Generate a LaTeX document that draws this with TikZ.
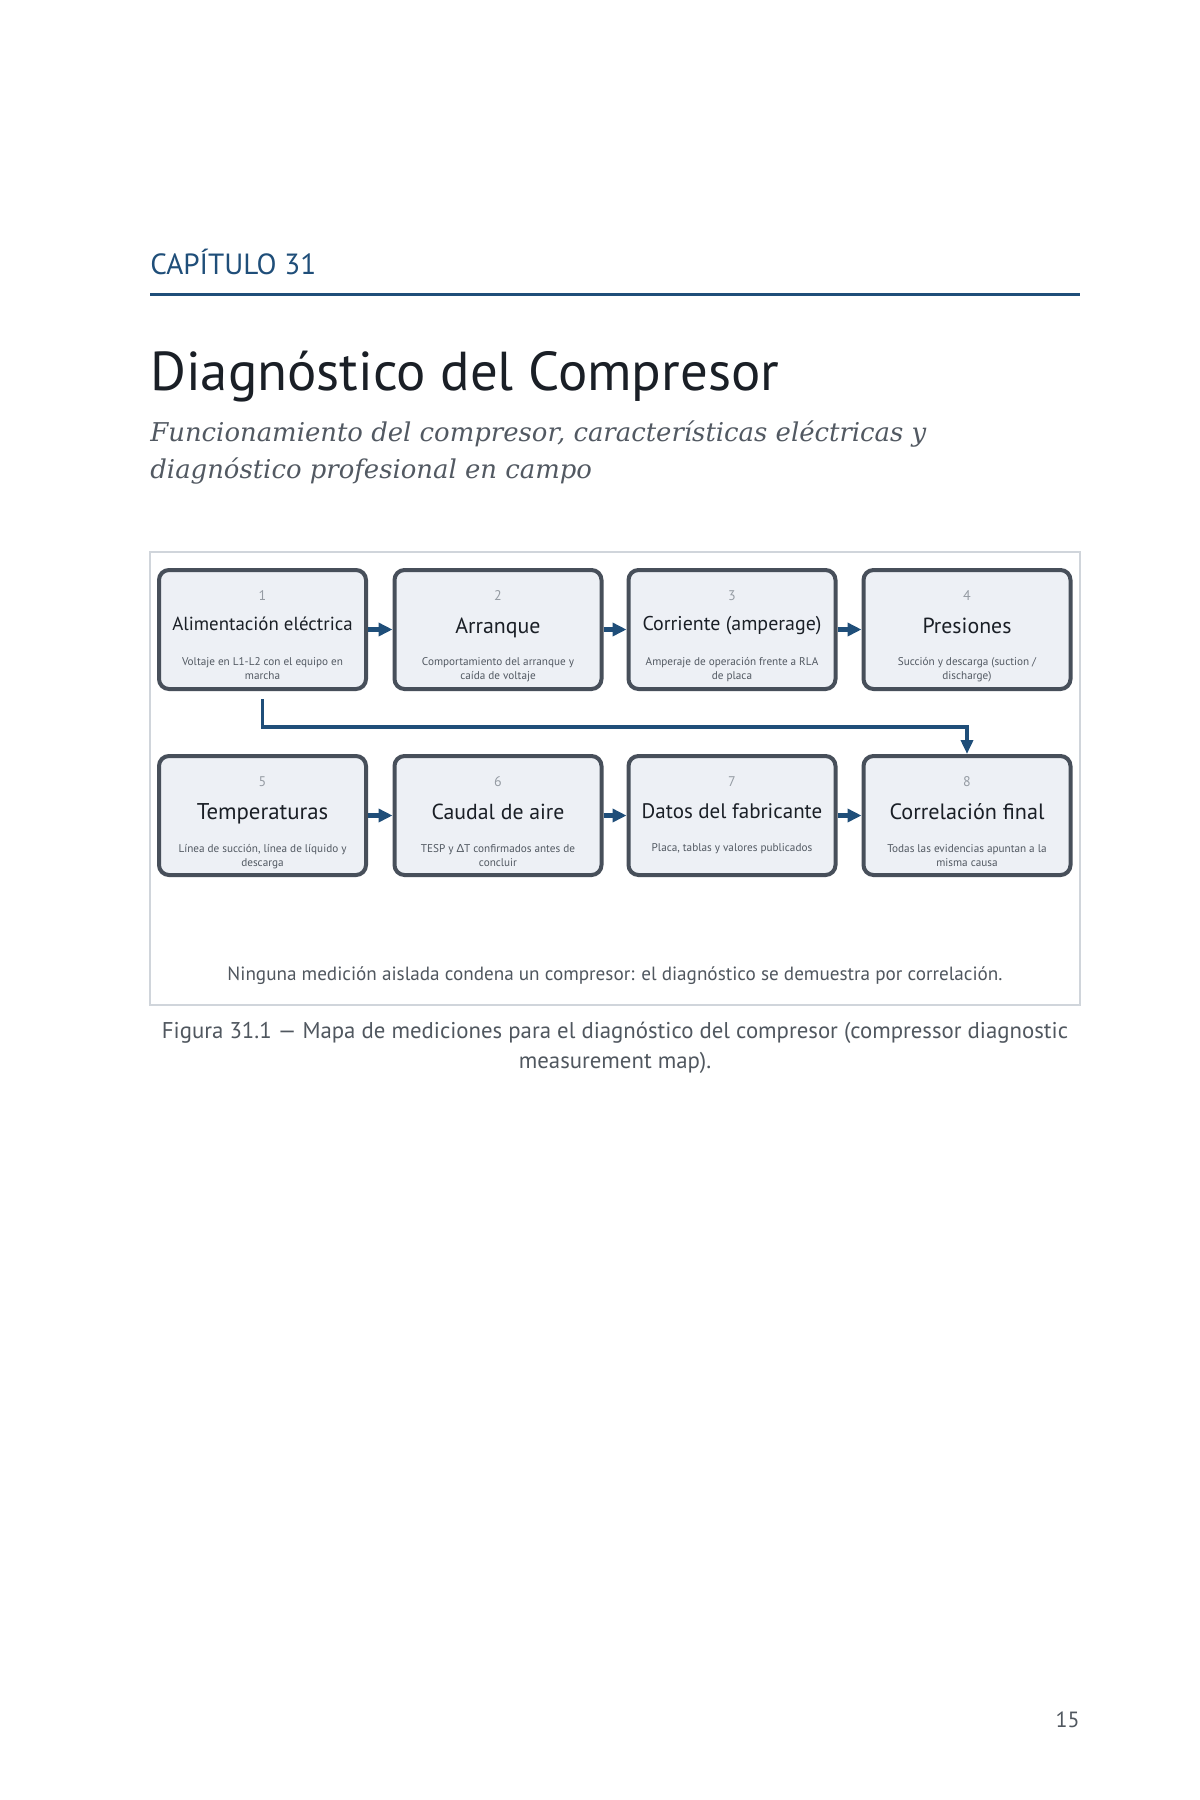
\documentclass[tikz,border=0pt]{standalone}
\usepackage{fontspec}
\setmainfont{PT Sans}
\newfontfamily\seriffam{DejaVu Serif}
\newfontfamily\grkfont{Lato}
\usetikzlibrary{arrows.meta,calc}
\definecolor{navy}{HTML}{1F4E79}
\definecolor{boxborder}{HTML}{474F5A}
\definecolor{boxfill}{HTML}{EDF0F5}
\definecolor{framecol}{HTML}{D0D5DB}
\definecolor{numgray}{HTML}{959BA3}
\definecolor{subgray}{HTML}{525962}
\definecolor{inkblack}{HTML}{1A1F26}
\definecolor{capgray}{HTML}{50575F}
\newcommand{\px}[1]{\fontsize{#1pt}{#1pt}\selectfont}
\newcommand{\pxl}[2]{\fontsize{#1pt}{#2pt}\selectfont}
% #1 name, #2 x, #3 y, #4 number, #5 title size, #6 title offset, #7 title, #8 subtitle last-baseline offset, #9 subtitle
\newcommand{\dbox}[9]{%
  \node[dbox] (#1) at (#2,#3) {};
  \node[numtxt] (#1n) at ($(#1.center)+(0,-29.5)$) {#4};
  \node[ttltxt, font=\px{#5}] (#1t) at ($(#1.center)+(0,#6)$) {#7};
  \node[subtxt] (#1s) at ($(#1.center)+(0,#8)$) {#9};
}
\begin{document}
\begin{tikzpicture}[x=0.5pt,y=-0.5pt,
  dbox/.style={draw=boxborder, fill=boxfill, line width=2pt, rounded corners=5pt,
    minimum width=103.5pt, minimum height=59.5pt, inner sep=0pt},
  numtxt/.style={anchor=base, inner sep=0pt, text=numgray, font=\px{7}},
  ttltxt/.style={anchor=base, inner sep=0pt, text=inkblack},
  subtxt/.style={anchor=base, inner sep=0pt, text=subgray, align=center, font=\pxl{5.6}{7}},
  flow/.style={draw=navy, line width=2.3pt, -{Triangle[length=7pt,width=6.5pt]}},
  conn/.style={draw=navy, line width=1.8pt, -{Triangle[length=7pt,width=6pt]}},
]
\fill[white] (0,0) rectangle (1200,1800);
\useasboundingbox (0,0) rectangle (1200,1800);

% header
\node[anchor=base west, inner sep=0pt, text=navy, font=\px{14.6}] (chap) at (150,274) {CAPÍTULO 31};
\draw[navy, line width=1.5pt] (150,294) -- (1080,294);
\node[anchor=base west, inner sep=0pt, text=inkblack, font=\px{27.4}] (title) at (150,390) {Diagnóstico del Compresor};
\node[anchor=base west, inner sep=0pt, text=subgray, font=\seriffam\itshape\px{12.95}] (sub1) at (150,441) {Funcionamiento del compresor, características eléctricas y};
\node[anchor=base west, inner sep=0pt, text=subgray, font=\seriffam\itshape\px{12.95}] (sub2) at (150,478) {diagnóstico profesional en campo};

% frame
\draw[framecol, line width=0.75pt] (150,552) rectangle (1080,1005);

% boxes
\dbox{b1}{262.5}{629.5}{1}{9.44}{1}{Alimentación eléctrica}{50}{Voltaje en L1-L2 con el equipo en\\marcha}
\dbox{b2}{498}{629.5}{2}{10.94}{3.5}{Arranque}{50}{Comportamiento del arranque y\\caída de voltaje}
\dbox{b3}{732}{629.5}{3}{9.97}{1}{Corriente (amperage)}{50}{Amperaje de operación frente a RLA\\de placa}
\dbox{b4}{967}{629.5}{4}{10.92}{3.5}{Presiones}{50}{Succión y descarga (suction /\\discharge)}
\dbox{b5}{262.5}{815.5}{5}{11.4}{3.5}{Temperaturas}{50.5}{Línea de succión, línea de líquido y\\descarga}
\dbox{b6}{498}{815.5}{6}{10.88}{3.5}{Caudal de aire}{50.5}{TESP y {\grkfont Δ}T confirmados antes de\\concluir}
\dbox{b7}{732}{815.5}{7}{10.5}{3.3}{Datos del fabricante}{36}{Placa, tablas y valores publicados}
\dbox{b8}{967}{815.5}{8}{11.08}{3.5}{Correlación final}{50.5}{Todas las evidencias apuntan a la\\misma causa}

% flow arrows
\draw[flow] (b1) -- (b2);
\draw[flow] (b2) -- (b3);
\draw[flow] (b3) -- (b4);
\draw[flow] (b5) -- (b6);
\draw[flow] (b6) -- (b7);
\draw[flow] (b7) -- (b8);

% connector 1 -> 8
\coordinate (c1) at ($(b1.south)+(0,8)$);
\coordinate (c2) at (262.5,727);
\coordinate (c3) at (967,727);
\draw[conn] (c1) -- (c2) -- (c3) -- (b8.north);

% note
\node[anchor=base, inner sep=0pt, text=capgray, font=\px{9.58}] (note) at (615,980) {Ninguna medición aislada condena un compresor: el diagnóstico se demuestra por correlación.};

% caption
\node[anchor=base, inner sep=0pt, text=capgray, font=\px{11.4}] (cap1) at (615,1038) {Figura 31.1 — Mapa de mediciones para el diagnóstico del compresor (compressor diagnostic};
\node[anchor=base, inner sep=0pt, text=capgray, font=\px{11.4}] (cap2) at (615,1068) {measurement map).};

% page number
\node[anchor=base east, inner sep=0pt, text=capgray, font=\px{11}] (pnum) at (1080,1727) {15};
\end{tikzpicture}
\end{document}
